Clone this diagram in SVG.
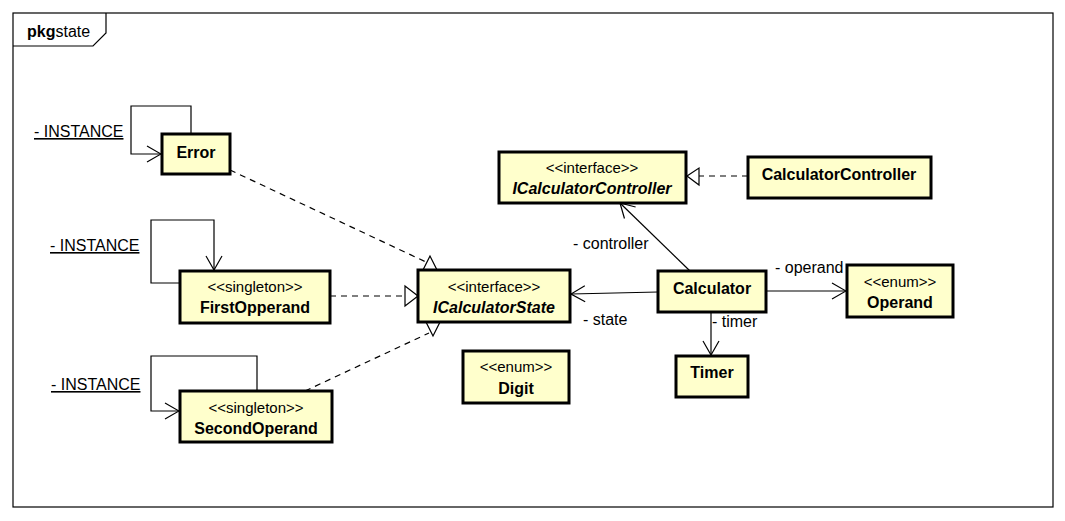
<svg xmlns="http://www.w3.org/2000/svg" width="1065" height="521" viewBox="0 0 1065 521">
<style>
.node rect{fill:#ffffcc;stroke:#000;stroke-width:3}
.t{font-family:"Liberation Sans",Arial,sans-serif;fill:#000}
.st{font-size:15px;text-anchor:middle}
.nm{font-size:16px;font-weight:bold;text-anchor:middle}
.it{font-style:italic}
.lb{font-size:16px}
.ul{text-decoration:underline}
.c{fill:none;stroke:#000;stroke-width:1.2}
.d{stroke-dasharray:6,5}
.tri{fill:#fff;stroke:#000;stroke-width:1.2}
</style>
<defs>
<marker id="open" markerUnits="userSpaceOnUse" markerWidth="16" markerHeight="18" viewBox="0 0 16 18" refX="15" refY="9" orient="auto">
<path d="M1,1 L15,9 L1,17" fill="none" stroke="#000" stroke-width="1.2"/>
</marker>
</defs>
<g id="frame">
<rect x="13" y="13" width="1040" height="494" fill="#fff" stroke="#000" stroke-width="1.2"/>
<path d="M13,46 L93,46 L106,33 L106,13" fill="none" stroke="#000" stroke-width="1.2"/>
<text class="t" x="27" y="37" font-size="16"><tspan font-weight="bold">pkg</tspan><tspan>state</tspan></text>
</g>
<g id="connectors">
<polyline class="c" points="191,134 191,106 131,106 131,154 161,154" marker-end="url(#open)"/>
<polyline class="c" points="180,283 151,283 151,220 214,220 214,270" marker-end="url(#open)"/>
<polyline class="c" points="257,391 257,356 151,356 151,411 179,411" marker-end="url(#open)"/>
<line class="c d" x1="230" y1="170" x2="426" y2="262"/>
<polygon class="tri" points="430,256 423,270 437,270"/>
<line class="c d" x1="330" y1="296" x2="405" y2="296"/>
<polygon class="tri" points="418,296 405,286 405,306"/>
<line class="c d" x1="305" y1="391" x2="429" y2="333"/>
<polygon class="tri" points="433,336 426,322 440,322"/>
<line class="c d" x1="748" y1="176" x2="699" y2="176"/>
<polygon class="tri" points="687,176 699,168 699,185"/>
<line class="c" x1="690" y1="271" x2="620" y2="203" marker-end="url(#open)"/>
<line class="c" x1="658" y1="292" x2="571" y2="294" marker-end="url(#open)"/>
<line class="c" x1="766" y1="291" x2="846" y2="291" marker-end="url(#open)"/>
<line class="c" x1="711" y1="312" x2="711" y2="355" marker-end="url(#open)"/>
<text class="t lb ul" x="34" y="137">- INSTANCE</text>
<text class="t lb ul" x="50" y="251">- INSTANCE</text>
<text class="t lb ul" x="51" y="390">- INSTANCE</text>
<text class="t lb" x="573" y="249">- controller</text>
<text class="t lb" x="583" y="325">- state</text>
<text class="t lb" x="775" y="273">- operand</text>
<text class="t lb" x="712" y="327">- timer</text>
</g>
<g id="Error" class="node">
<rect x="162" y="134" width="68" height="40"/>
<text class="t nm" x="196" y="158">Error</text>
</g>
<g id="FirstOpperand" class="node">
<rect x="180" y="271" width="150" height="52"/>
<text class="t st" x="255" y="292">&lt;&lt;singleton&gt;&gt;</text>
<text class="t nm" x="255" y="313">FirstOpperand</text>
</g>
<g id="SecondOperand" class="node">
<rect x="180" y="391" width="152" height="51"/>
<text class="t st" x="256" y="413">&lt;&lt;singleton&gt;&gt;</text>
<text class="t nm" x="256" y="434">SecondOperand</text>
</g>
<g id="ICalculatorState" class="node">
<rect x="418" y="270" width="152" height="52"/>
<text class="t st" x="494" y="292">&lt;&lt;interface&gt;&gt;</text>
<text class="t nm it" x="494" y="313">ICalculatorState</text>
</g>
<g id="ICalculatorController" class="node">
<rect x="499" y="152" width="187" height="51"/>
<text class="t st" x="592" y="173">&lt;&lt;interface&gt;&gt;</text>
<text class="t nm it" x="592" y="194">ICalculatorController</text>
</g>
<g id="CalculatorController" class="node">
<rect x="748" y="157" width="183" height="41"/>
<text class="t nm" x="839" y="180">CalculatorController</text>
</g>
<g id="Calculator" class="node">
<rect x="658" y="271" width="108" height="41"/>
<text class="t nm" x="712" y="294">Calculator</text>
</g>
<g id="Operand" class="node">
<rect x="847" y="265" width="106" height="52"/>
<text class="t st" x="900" y="287">&lt;&lt;enum&gt;&gt;</text>
<text class="t nm" x="900" y="308">Operand</text>
</g>
<g id="Timer" class="node">
<rect x="676" y="356" width="72" height="41"/>
<text class="t nm" x="712" y="378">Timer</text>
</g>
<g id="Digit" class="node">
<rect x="463" y="351" width="106" height="52"/>
<text class="t st" x="516" y="372">&lt;&lt;enum&gt;&gt;</text>
<text class="t nm" x="516" y="394">Digit</text>
</g>
</svg>
